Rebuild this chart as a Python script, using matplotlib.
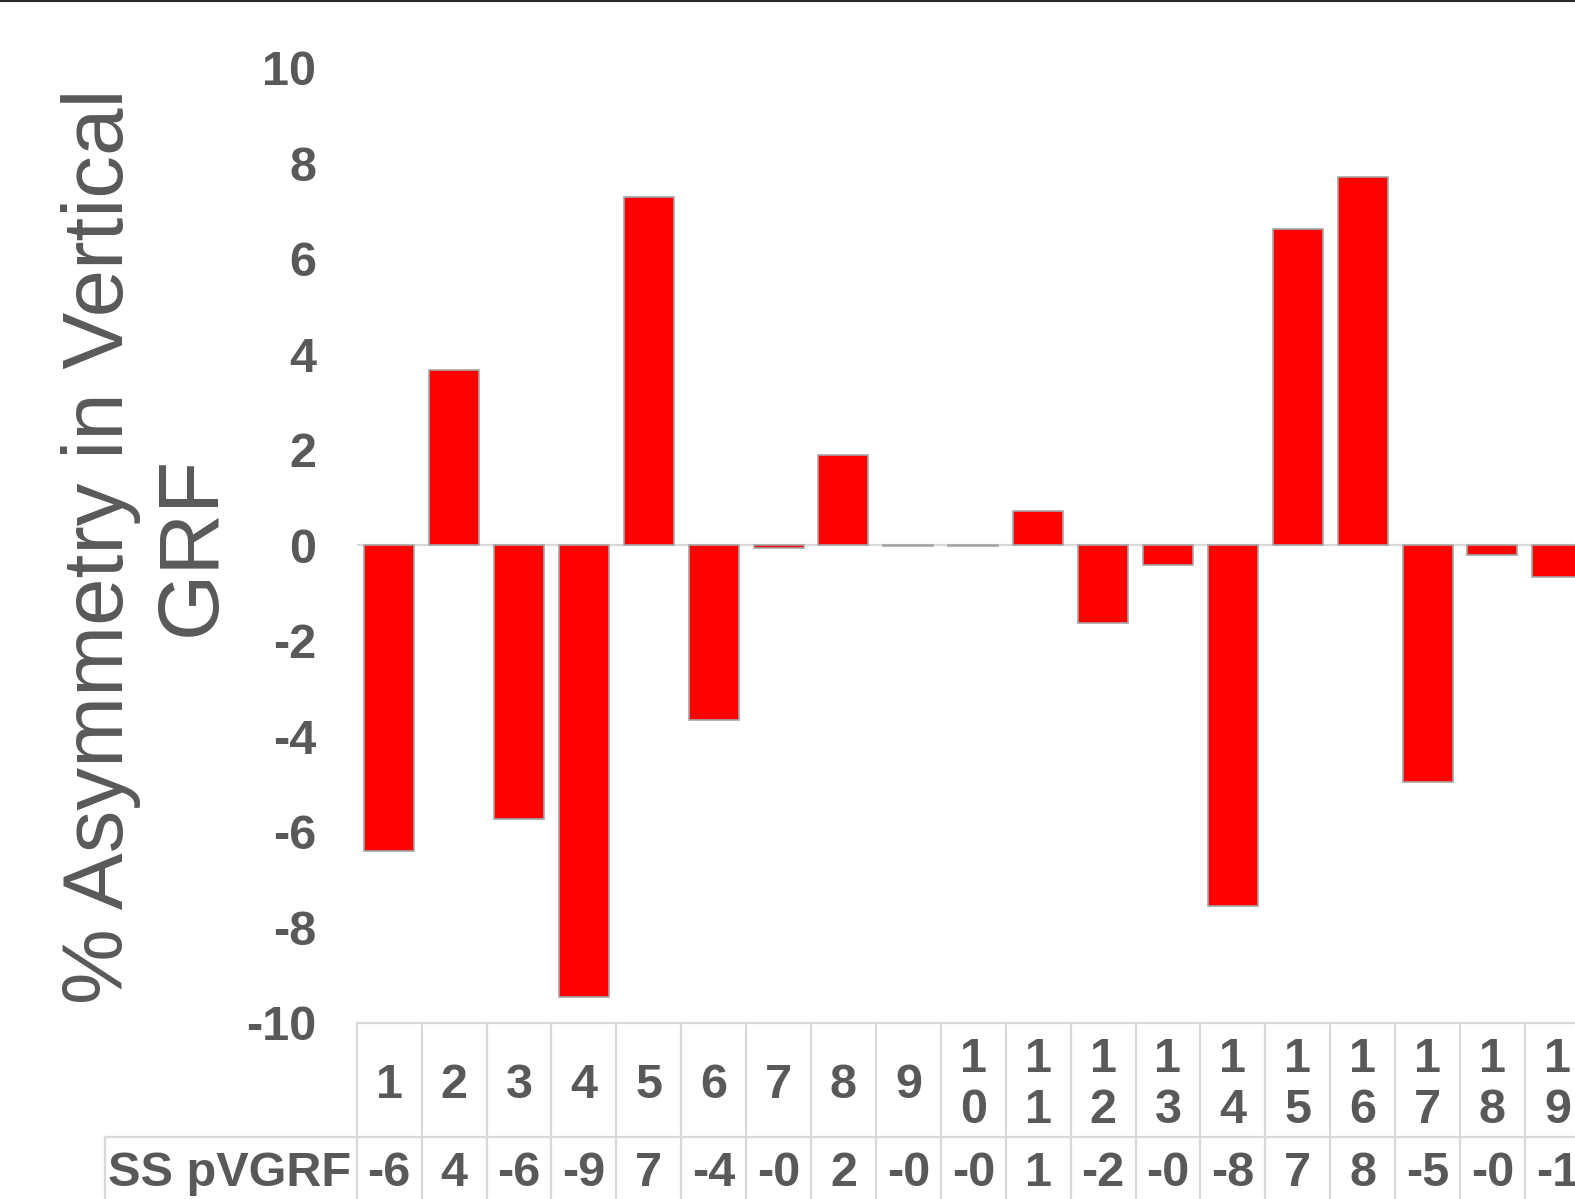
import matplotlib
matplotlib.use("Agg")
import matplotlib.pyplot as plt
from matplotlib import transforms
from matplotlib.lines import Line2D

plt.rcParams['font.family'] = ['Liberation Sans', 'DejaVu Sans']

categories = [str(i) for i in range(1, 20)]
values = [-6.40, 3.67, -5.73, -9.46, 7.29, -3.67, -0.07, 1.88, -0.03, -0.03,
          0.71, -1.63, -0.41, -7.56, 6.62, 7.71, -4.97, -0.20, -0.66]
series_name = "SS pVGRF"
y_ticks = [-10, -8, -6, -4, -2, 0, 2, 4, 6, 8, 10]
y_label = "% Asymmetry in Vertical\nGRF"

W, H = 1575, 1199
TXT = '#595959'
GRID = '#d9d9d9'

fig = plt.figure(figsize=(W / 100, H / 100), dpi=100)

# axes geometry in pixels
ax_left = 356.7
cell_w = 64.9
ax_top = 67.5
ax_bot = 1022.6
n = len(categories)
ax = fig.add_axes([ax_left / W, 1 - ax_bot / H, n * cell_w / W, (ax_bot - ax_top) / H])

x = list(range(1, n + 1))
ax.axhline(0, color=GRID, lw=1.6, zorder=1)
ax.bar(x, values, width=0.77, color='#ff0000', edgecolor='#a6a6a6', linewidth=1.2, zorder=2)
ax.set_xlim(0.5, n + 0.5)
ax.set_ylim(-10, 10)
ax.set_yticks(y_ticks)
ax.set_yticklabels([str(t) for t in y_ticks], fontsize=35, fontweight='bold', color=TXT)
ax.tick_params(axis='y', length=0, pad=29)
ax.tick_params(axis='x', bottom=False, labelbottom=False)
for s in ax.spines.values():
    s.set_visible(False)

# y label
fig.text(147 / W, 1 - 546 / H, y_label, rotation=90, ha='center', va='center',
         fontsize=61.5, color=TXT, linespacing=1.18, multialignment='center')

# data table
tr = transforms.blended_transform_factory(ax.transData, fig.transFigure)
row1_top = 1 - ax_bot / H
row1_bot = 1 - 1137 / H
row1_mid = 1 - 1085 / H
row2_mid = 1 - 1173 / H
lw_grid = 1.6

# top of table line
fig.add_artist(Line2D([0.5, n + 0.5], [row1_top, row1_top], transform=tr, color=GRID, lw=lw_grid, clip_on=False))
# line between rows (extends under header cell)
fig.add_artist(Line2D([105.5 / W, 1.02], [row1_bot, row1_bot], transform=fig.transFigure, color=GRID, lw=lw_grid, clip_on=False))
# header cell left border
fig.add_artist(Line2D([105.5 / W, 105.5 / W], [row1_bot, 0], transform=fig.transFigure, color=GRID, lw=lw_grid, clip_on=False))
# vertical separators
for k in range(n + 1):
    xv = k + 0.5
    fig.add_artist(Line2D([xv, xv], [row1_top, 0], transform=tr, color=GRID, lw=lw_grid, clip_on=False))

for xi, c in zip(x, categories):
    lab = "\n".join(list(c))
    fig.text(xi, row1_mid, lab, transform=tr, ha='center', va='center', fontsize=35,
             fontweight='bold', color=TXT, linespacing=1.17)
for xi, v in zip(x, values):
    fig.text(xi, row2_mid, f"{v:.0f}", transform=tr, ha='center', va='center', fontsize=35,
             fontweight='bold', color=TXT)
fig.text(230 / W, row2_mid, series_name, ha='center', va='center', fontsize=35,
         fontweight='bold', color=TXT)

# top border line of the frame
fig.add_artist(Line2D([0, 1], [1 - 1 / H, 1 - 1 / H], transform=fig.transFigure, color='#2b2b2b', lw=1.5))

fig.savefig('out.png', dpi=100)
